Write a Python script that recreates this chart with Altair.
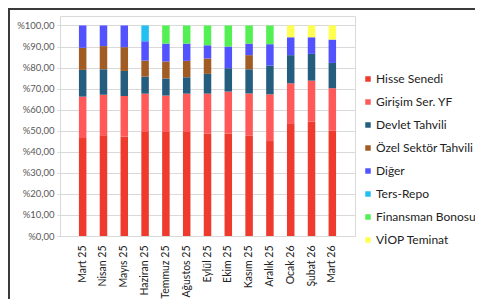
import altair as alt
import pandas as pd

months = ["Mart 25", "Nisan 25", "Mayıs 25", "Haziran 25", "Temmuz 25", "Ağustos 25",
          "Eylül 25", "Ekim 25", "Kasım 25", "Aralık 25", "Ocak 26", "Şubat 26", "Mart 26"]

series_names = ["Hisse Senedi", "Girişim Ser. YF", "Devlet Tahvili", "Özel Sektör Tahvili",
                "Diğer", "Ters-Repo", "Finansman Bonosu", "VİOP Teminat"]
colors = ["#EE3B2E", "#FF5959", "#255D7F", "#A15C24", "#5252FF", "#22C0F0", "#52F052", "#FFFF52"]

hisse     = [46.5, 47.8, 47.3, 49.4, 49.4, 49.4, 48.6, 48.7, 47.6, 45.1, 53.5, 54.4, 50.0]
girisim   = [19.7, 19.3, 19.2, 18.2, 17.3, 18.2, 19.0, 19.9, 20.1, 22.2, 19.0, 19.4, 20.2]
devlet    = [12.7, 12.1, 11.9, 8.1, 8.1, 7.8, 9.4, 11.1, 11.5, 13.7, 13.4, 12.7, 12.0]
ozel      = [10.5, 11.0, 11.3, 7.6, 8.1, 7.8, 7.3, 0.0, 6.7, 0.0, 0.0, 0.0, 0.0]
diger     = [10.6, 9.8, 10.3, 9.2, 8.5, 8.2, 6.3, 10.3, 5.5, 10.1, 8.5, 7.9, 11.1]
ters_repo = [0.0, 0.0, 0.0, 7.5, 0.0, 0.0, 0.0, 0.0, 0.0, 0.0, 0.0, 0.0, 0.0]
finansman = [0.0, 0.0, 0.0, 0.0, 8.6, 8.6, 9.4, 10.0, 8.6, 8.9, 0.0, 0.0, 0.0]
viop      = [0.0, 0.0, 0.0, 0.0, 0.0, 0.0, 0.0, 0.0, 0.0, 0.0, 5.6, 5.6, 6.7]

all_series = [hisse, girisim, devlet, ozel, diger, ters_repo, finansman, viop]
rows = []
for si, (name, vals) in enumerate(zip(series_names, all_series)):
    for m, v in zip(months, vals):
        rows.append({"Ay": m, "Seri": name, "Değer": v, "sira": si})
df = pd.DataFrame(rows)

FONT = "Lato"

bars = alt.Chart(df).mark_bar(size=7.5).encode(
    x=alt.X("Ay:N", sort=months, title=None,
            scale=alt.Scale(paddingInner=0.64, paddingOuter=0.91),
            axis=alt.Axis(labelAngle=-90, labelFontSize=10.5, labelColor="#222222",
                          labelFont=FONT, labelPadding=9, ticks=False, domain=True,
                          domainColor="#d9d9d9", grid=False)),
    y=alt.Y("Değer:Q", stack="zero", title=None,
            scale=alt.Scale(domain=[0, 104.5], nice=False),
            axis=alt.Axis(values=list(range(0, 101, 10)),
                          labelExpr="'%' + replace(format(datum.value, '.2f'), '.', ',')",
                          labelFontSize=9.5, labelColor="#595959", labelFont=FONT,
                          tickSize=3, tickColor="#d9d9d9", domain=False,
                          gridColor="#d9d9d9", labelPadding=3)),
    color=alt.Color("Seri:N", sort=series_names,
                    scale=alt.Scale(domain=series_names, range=colors),
                    legend=alt.Legend(title=None, orient="none", legendX=302, legendY=57,
                                      symbolType="square", symbolSize=30, symbolStrokeWidth=0,
                                      labelFontSize=12, labelFont=FONT, labelColor="#222222",
                                      labelOffset=2, rowPadding=11, padding=0)),
    order=alt.Order("sira:Q", sort="ascending"),
)

border_top = alt.Chart(df).mark_rule(color="#3a3a3a", strokeWidth=2).encode(
    x=alt.value(-52), x2=alt.value(440), y=alt.value(-7))
border_left = alt.Chart(df).mark_rule(color="#3a3a3a", strokeWidth=2).encode(
    x=alt.value(-51), y=alt.value(-8), y2=alt.value(300))

chart = alt.layer(bars, border_top, border_left).properties(
    width=295, height=220,
    autosize=alt.AutoSizeParams(type="none"),
    padding={"left": 52, "top": 8, "right": 120, "bottom": 63},
).configure_view(stroke="#d9d9d9")

chart.save("out.html", embed_options={"renderer": "svg", "actions": False})
